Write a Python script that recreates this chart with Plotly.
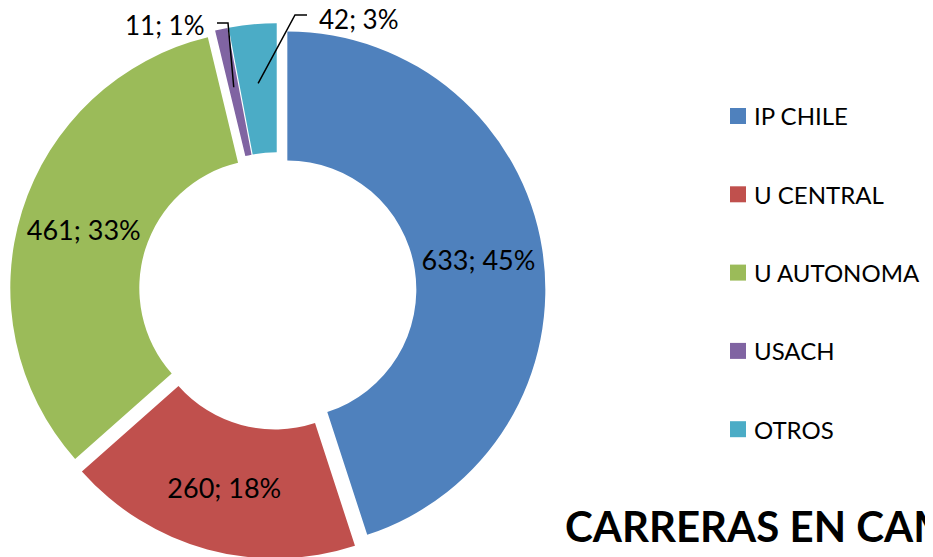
import math
import plotly.graph_objects as go

categories = ["IP CHILE", "U CENTRAL", "U AUTONOMA", "USACH", "OTROS"]
values = [633, 260, 461, 11, 42]
colors = ["#4F81BD", "#C0504D", "#9BBB59", "#8064A2", "#4BACC6"]
title_text = "CARRERAS EN CAMPUS"

W, H = 933, 557
OFF = 8  # page body margin offset
FONT = "Lato"
PULL = 0.038

# target pie geometry in screenshot pixels
CX, CY, R = 277.5, 291.0, 258.0
size = 2 * R * (1 + PULL)
fx0, fx1 = CX - OFF - size / 2 - 2, CX - OFF + size / 2 + 2
fy0, fy1 = CY - OFF - size / 2, CY - OFF + size / 2
dom_x = [max(0.0, fx0 / W), min(1.0, fx1 / W)]
dom_y = [max(0.0, 1 - fy1 / H), min(1.0, 1 - fy0 / H)]

fig = go.Figure()
fig.add_trace(go.Pie(
    labels=categories, values=values, sort=False, direction="clockwise", rotation=0,
    hole=0.5, pull=[PULL] * len(values),
    marker=dict(colors=colors, line=dict(width=0)),
    texttemplate="%{value}; %{percent:.0%}",
    textposition=["inside", "inside", "inside", "none", "none"],
    insidetextorientation="horizontal",
    textfont=dict(family=FONT, size=27, color="black"),
    domain=dict(x=dom_x, y=dom_y),
    showlegend=False, hoverinfo="label+value+percent",
))

# geometry (screen pixels) derived from the pie domain
cx = (dom_x[0] + dom_x[1]) / 2 * W + OFF
cy = H - (dom_y[0] + dom_y[1]) / 2 * H + OFF
dsize = min((dom_x[1] - dom_x[0]) * W, (dom_y[1] - dom_y[0]) * H)
r = dsize / (2 + 2 * PULL)
total = sum(values)

def px(x):
    return (x - OFF) / W

def py(y):
    return 1 - (y - OFF) / H

shapes = []
annotations = []
# leader lines for the two small slices
label_pos = {3: (207, 25, "right", 217, 228, 23), 4: (317, 19, "left", 307, 295, 15)}
cum = 0
for i, v in enumerate(values):
    mid = (cum + v / 2) / total * 2 * math.pi
    cum += v
    if i in label_pos:
        tx, ty, anchor, lx0, lx1, ly = label_pos[i]
        rr = r * 0.77 + PULL * r
        ax = cx + rr * math.sin(mid)
        ay = cy - rr * math.cos(mid)
        path = f"M {px(lx0)} {py(ly)} L {px(lx1)} {py(ly)} L {px(ax)} {py(ay)}"
        shapes.append(dict(type="path", xref="paper", yref="paper", path=path,
                           line=dict(color="black", width=1.5)))
        pct = round(v / total * 100)
        annotations.append(dict(x=px(tx), y=py(ty), xref="paper", yref="paper",
                                text=f"{v}; {pct}%", showarrow=False,
                                xanchor=anchor, yanchor="middle",
                                font=dict(family=FONT, size=26, color="black")))

# manual legend
leg_y0, leg_dy = 116, 78.3
for i, (c, col) in enumerate(zip(categories, colors)):
    yc = leg_y0 + i * leg_dy
    shapes.append(dict(type="rect", xref="paper", yref="paper",
                       x0=px(730), x1=px(746), y0=py(yc + 8), y1=py(yc - 8),
                       fillcolor=col, line=dict(width=0)))
    annotations.append(dict(x=px(752), y=py(yc), xref="paper", yref="paper",
                            text=c, showarrow=False, xanchor="left", yanchor="middle",
                            font=dict(family=FONT, size=24, color="black")))

annotations.append(dict(x=px(563), y=py(526), xref="paper", yref="paper",
                        text=f"<b>{title_text}</b>", showarrow=False,
                        xanchor="left", yanchor="middle",
                        font=dict(family=FONT, size=42, color="black")))

fig.update_layout(
    width=W, height=H, margin=dict(l=0, r=0, t=0, b=0),
    paper_bgcolor="white", plot_bgcolor="white",
    shapes=shapes, annotations=annotations, showlegend=False,
)
fig.write_html("out.html")
